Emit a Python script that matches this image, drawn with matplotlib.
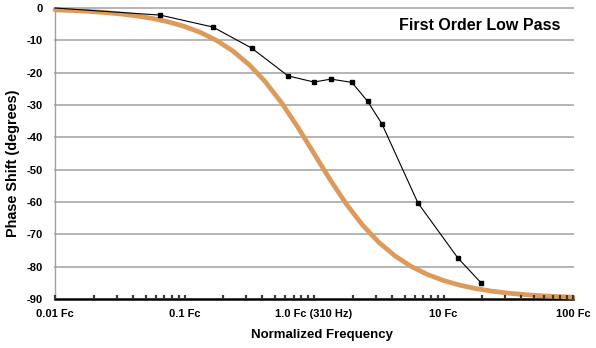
import matplotlib
matplotlib.use("Agg")
import matplotlib.pyplot as plt

# ---- data ----
# theoretical first-order low pass phase (orange curve)
theory_freq = [0.01, 0.01334, 0.01778, 0.02371, 0.03162, 0.04217, 0.05623, 0.07499,
               0.1, 0.1334, 0.1778, 0.2371, 0.3162, 0.4217, 0.5623, 0.7499,
               1.0, 1.334, 1.778, 2.371, 3.162, 4.217, 5.623, 7.499,
               10.0, 13.34, 17.78, 23.71, 31.62, 42.17, 56.23, 74.99, 100.0]
theory_phase = [-0.57, -0.76, -1.02, -1.36, -1.81, -2.42, -3.22, -4.29,
                -5.71, -7.60, -10.08, -13.34, -17.55, -22.87, -29.35, -36.86,
                -45.0, -53.14, -60.65, -67.13, -72.45, -76.66, -79.92, -82.40,
                -84.29, -85.71, -86.78, -87.58, -88.19, -88.64, -88.98, -89.24, -89.43]

# measured phase (black line with markers)
meas_freq = [0.01, 0.065, 0.166, 0.33, 0.63, 1.0, 1.35, 1.96, 2.6, 3.35, 6.35, 12.9, 19.5]
meas_phase = [0.0, -2.2, -5.9, -12.4, -21.0, -22.9, -22.0, -23.0, -28.9, -35.9, -60.3, -77.3, -85.0]

# small markers along the bottom axis (1..9 per decade)
axis_mark_freq = [m * d for d in (0.01, 0.1, 1, 10) for m in range(1, 10)] + [100]
axis_mark_level = -89.3

yticks = [0, -10, -20, -30, -40, -50, -60, -70, -80, -90]
xticks = [0.01, 0.1, 1, 10, 100]
xticklabels = ["0.01 Fc", "0.1 Fc", "1.0 Fc (310 Hz)", "10 Fc", "100 Fc"]

title = "First Order Low Pass"
xlabel = "Normalized Frequency"
ylabel = "Phase Shift (degrees)"

# ---- figure ----
plt.rcParams['font.family'] = ['Liberation Sans', 'DejaVu Sans']
fig = plt.figure(figsize=(5.96, 3.48), dpi=100)
W, H = 596, 348
L, R, T, B = 55, 573, 8, 299
ax = fig.add_axes([L / W, 1 - B / H, (R - L) / W, (B - T) / H])
ax.set_xscale('log')
ax.set_xlim(0.01, 100)
ax.set_ylim(-90, 0)

for y in yticks[:-1]:
    ax.axhline(y, color='#b4b4b4', lw=1.4, zorder=1, clip_on=False)

ax.plot(theory_freq, theory_phase, color='#dc9a5c', lw=3.4, solid_capstyle='round',
        solid_joinstyle='round', zorder=3, clip_on=False)
ax.plot(meas_freq, meas_phase, color='black', lw=0.8, marker='s', markersize=2.4,
        markevery=list(range(1, len(meas_freq))), zorder=4, clip_on=False)
ax.plot(axis_mark_freq, [axis_mark_level] * len(axis_mark_freq), linestyle='none',
        marker='|', markersize=3.2, markeredgewidth=1.6, color='#3a3a3a',
        zorder=5, clip_on=False)

for s in ('top', 'right'):
    ax.spines[s].set_visible(False)
ax.spines['left'].set_color('#a0a0a0')
ax.spines['left'].set_linewidth(1.0)
ax.spines['bottom'].set_color('black')
ax.spines['bottom'].set_linewidth(1.8)

ax.set_yticks(yticks)
ax.set_yticklabels([str(v) for v in yticks], fontsize=8, fontweight='bold')
ax.set_xticks(xticks)
ax.set_xticklabels(xticklabels, fontsize=8, fontweight='bold')
ax.xaxis.set_minor_locator(matplotlib.ticker.NullLocator())
ax.tick_params(axis='both', length=0)
ax.tick_params(axis='y', pad=9)
ax.tick_params(axis='x', pad=7)

ax.text(0.975, 0.94, title, transform=ax.transAxes, ha='right', va='center',
        fontsize=11.5, fontweight='bold')
fig.text(322 / W, 1 - 335 / H, xlabel, ha='center', va='center', fontsize=9.5,
         fontweight='bold')
fig.text(13 / W, 1 - 163 / H, ylabel, ha='center', va='center', rotation=90,
         fontsize=10.4, fontweight='bold')

fig.savefig('out.png', dpi=100)
